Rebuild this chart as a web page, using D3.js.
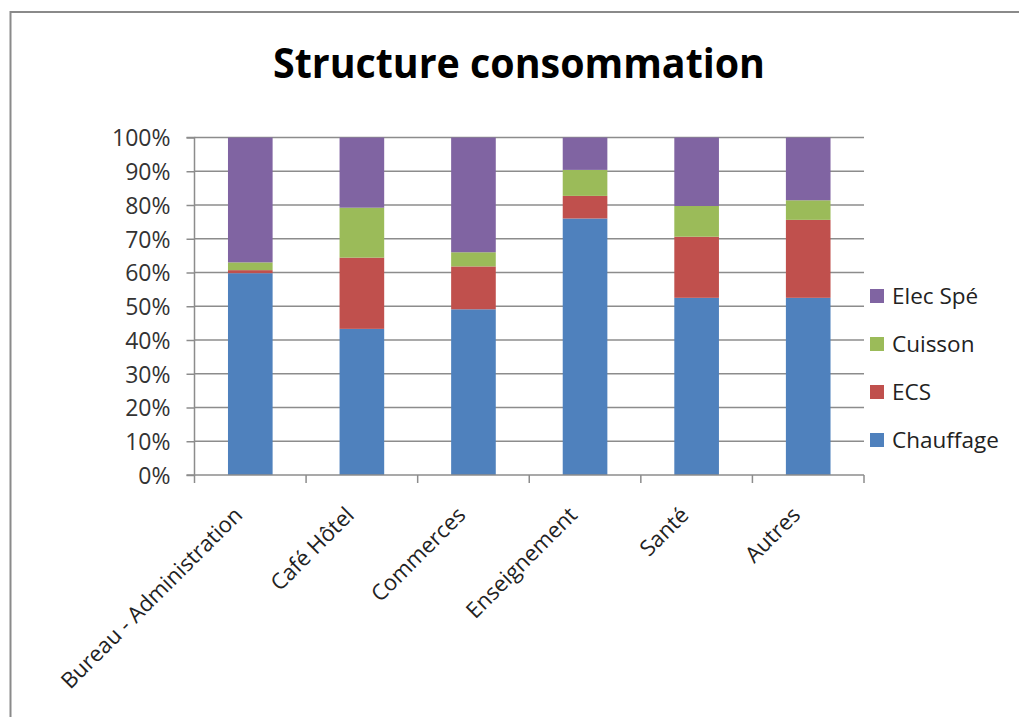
<!DOCTYPE html>
<html>
<head>
<meta charset="utf-8">
<script src="https://cdn.jsdelivr.net/npm/d3@7"></script>
<style>
  html, body { margin: 0; padding: 0; background: #fff; }
  svg { display: block; }
</style>
</head>
<body>
<svg id="chart" width="1019" height="717"></svg>
<script>
const title = "Structure consommation";
const categories = ["Bureau - Administration", "Café Hôtel", "Commerces", "Enseignement", "Santé", "Autres"];
const seriesNames = ["Chauffage", "ECS", "Cuisson", "Elec Spé"];
const chauffage = [59.8, 43.3, 49.1, 76.0, 52.5, 52.5];
const ecs       = [0.9, 21.1, 12.7, 6.7, 18.1, 23.1];
const cuisson   = [2.3, 14.8, 4.2, 7.7, 9.1, 5.8];
const elecSpe   = [37.0, 20.8, 34.0, 9.6, 20.3, 18.6];
const yTicks = [0, 0.1, 0.2, 0.3, 0.4, 0.5, 0.6, 0.7, 0.8, 0.9, 1.0];
const colors = ["#4F81BD", "#C0504D", "#9BBB59", "#8064A2"];

const seriesValues = [chauffage, ecs, cuisson, elecSpe];
const rows = categories.map((c, i) => {
  const r = { cat: c };
  seriesNames.forEach((s, j) => r[s] = seriesValues[j][i]);
  return r;
});

const svg = d3.select("#chart");
const font = "'Open Sans', 'DejaVu Sans', sans-serif";
const L = 194.5, R = 864, T = 137.5, B = 475;

// frame
svg.append("path")
  .attr("d", `M10.5,${717} L10.5,12 L1019,12`)
  .attr("fill", "none").attr("stroke", "#8a8a8a").attr("stroke-width", 2);

// title
svg.append("text")
  .attr("x", 519).attr("y", 78)
  .attr("text-anchor", "middle")
  .attr("font-family", font).attr("font-weight", "bold")
  .attr("font-size", 42).attr("fill", "#000")
  .attr("textLength", 492).attr("lengthAdjust", "spacingAndGlyphs")
  .text(title);

const x = d3.scaleBand().domain(categories).range([L, R]).paddingInner(0.6).paddingOuter(0.3);
const y = d3.scaleLinear().domain([0, 1]).range([B, T]);
const xb = d3.scaleLinear().domain([0, categories.length]).range([L, R]);

// gridlines
svg.append("g").selectAll("line").data(yTicks.slice(1)).join("line")
  .attr("x1", L).attr("x2", R)
  .attr("y1", d => y(d)).attr("y2", d => y(d))
  .attr("stroke", "#8c8c8c").attr("stroke-width", 1.5);

// stacked bars
const stack = d3.stack().keys(seriesNames).offset(d3.stackOffsetExpand);
const stacked = stack(rows);
svg.append("g").selectAll("g").data(stacked).join("g")
  .attr("fill", (d, i) => colors[i])
  .selectAll("rect").data(d => d).join("rect")
  .attr("x", d => x(d.data.cat))
  .attr("width", x.bandwidth())
  .attr("y", d => y(d[1]))
  .attr("height", d => y(d[0]) - y(d[1]));

// y axis
const yAxis = d3.axisLeft(y).tickValues(yTicks).tickSize(8).tickFormat(d3.format(".0%"));
const gy = svg.append("g").attr("transform", `translate(${L},0)`).call(yAxis);
gy.select(".domain").attr("stroke", "#8c8c8c").attr("stroke-width", 1.5).attr("d", `M-8,${B}H0V${T}H-8`);
gy.selectAll(".tick line").attr("stroke", "#8c8c8c").attr("stroke-width", 1.5);
gy.selectAll(".tick text")
  .attr("x", -24).attr("dy", "0.36em")
  .attr("font-family", font).attr("font-size", 23).attr("fill", "#333");

// x axis
const xAxisLine = svg.append("g");
xAxisLine.append("line").attr("x1", L).attr("x2", R).attr("y1", B).attr("y2", B)
  .attr("stroke", "#8c8c8c").attr("stroke-width", 1.5);
xAxisLine.selectAll("line.t").data(d3.range(categories.length + 1)).join("line")
  .attr("class", "t")
  .attr("x1", d => xb(d)).attr("x2", d => xb(d))
  .attr("y1", B).attr("y2", B + 8)
  .attr("stroke", "#8c8c8c").attr("stroke-width", 1.5);

svg.append("g").selectAll("text").data(categories).join("text")
  .attr("transform", d => `translate(${x(d) + x.bandwidth() / 2 - 12},${B + 36}) rotate(-45)`)
  .attr("text-anchor", "end")
  .attr("dy", "0.35em")
  .attr("font-family", font).attr("font-size", 22).attr("fill", "#222")
  .text(d => d);

// legend
const legendOrder = seriesNames.map((s, i) => ({ name: s, color: colors[i] })).reverse();
const lg = svg.append("g").selectAll("g").data(legendOrder).join("g")
  .attr("transform", (d, i) => `translate(870,${289 + i * 48})`);
lg.append("rect").attr("width", 14).attr("height", 14).attr("fill", d => d.color);
lg.append("text").attr("x", 22).attr("y", 7).attr("dy", "0.36em")
  .attr("font-family", font).attr("font-size", 22.5).attr("fill", "#222")
  .text(d => d.name);
</script>
</body>
</html>
